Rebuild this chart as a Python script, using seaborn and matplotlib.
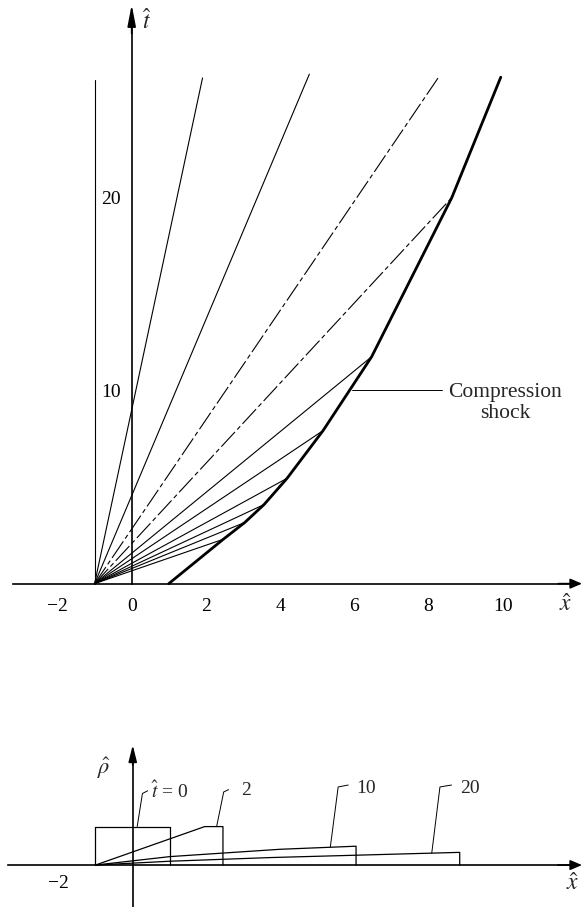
import matplotlib
matplotlib.use("Agg")
import matplotlib.pyplot as plt
import seaborn as sns

# characteristics leaving the corner of the pulse at x = -1
fan_x_end = [-1.0, 1.91, 4.79, 8.26, 8.63, 6.47, 5.16, 4.19, 3.57, 3.05, 2.47]
fan_t_end = [26.1, 26.2, 26.4, 26.2, 20.0, 11.76, 7.93, 5.46, 4.10, 3.17, 2.30]
fan_dashed = [False, False, False, True, True, False, False, False, False, False, False]

# compression shock starting at x = 1
shock_x = [1.0, 2.47, 3.05, 3.57, 4.19, 5.16, 6.47, 8.63, 9.95]
shock_t = [0.0, 2.30, 3.17, 4.10, 5.46, 7.93, 11.76, 20.0, 26.24]

# density profiles
prof_t0_x = [-1.0, -1.0, 1.0, 1.0]
prof_t0_rho = [0.0, 1.0, 1.0, 0.0]
prof_t2_x = [-1.0, 1.93, 2.42, 2.42]
prof_t2_rho = [0.0, 1.0, 1.0, 0.0]
prof_t10_x = [-1.0, 1.0, 3.95, 5.99, 5.99]
prof_t10_rho = [0.0, 0.22, 0.41, 0.49, 0.0]
prof_t20_x = [-1.0, 1.0, 3.7, 8.77, 8.77]
prof_t20_rho = [0.0, 0.10, 0.195, 0.33, 0.0]

# profile labels and their leader lines
prof_labels = ["$\\hat{t}$ = 0", "2", "10", "20"]
label_x = [0.50, 3.05, 6.27, 9.05]
label_rho = [1.93, 1.95, 2.0, 2.0]
leader_x = [[0.12, 0.26, 0.40], [2.25, 2.44, 2.57], [5.30, 5.51, 5.78], [8.02, 8.24, 8.55]]
leader_rho = [[1.0, 1.86, 1.93], [1.0, 1.90, 1.96], [0.47, 2.03, 2.08], [0.31, 2.03, 2.08]]

top_xticks = [-2, 0, 2, 4, 6, 8, 10]
top_xticklabels = ["\u22122", "0", "2", "4", "6", "8", "10"]
minor_xticks = [-1, 1, 3, 5, 7, 9]
top_tticks = [10, 20]

sns.set_style("white")
plt.rcParams["font.family"] = ["Liberation Serif", "DejaVu Serif"]
plt.rcParams["mathtext.fontset"] = "stix"

W, H = 582, 907
fig = plt.figure(figsize=(W / 100, H / 100), dpi=100)

# ---------------- top panel: x-t diagram ----------------
ax1 = fig.add_axes([0, 1 - 640 / H, 1, 640 / H])
ax1.set_xlim(-3.55, 12.14)
ax1.set_ylim(-2.92, 30.24)

dashdot = (0, (18, 3, 4, 3))
for xe, te, d in zip(fan_x_end, fan_t_end, fan_dashed):
    sns.lineplot(x=[-1.0, xe], y=[0.0, te], ax=ax1, color="black", linewidth=0.8,
                 linestyle=dashdot if d else "-", estimator=None, sort=False)

sns.lineplot(x=shock_x, y=shock_t, ax=ax1, color="black", linewidth=2.0,
             estimator=None, sort=False)

for s in ["top", "right"]:
    ax1.spines[s].set_visible(False)
ax1.spines["bottom"].set_position(("data", 0))
ax1.spines["left"].set_position(("data", 0))
ax1.spines["bottom"].set_bounds(-3.2, 11.8)
ax1.spines["left"].set_bounds(0, 29.0)
for s in ["bottom", "left"]:
    ax1.spines[s].set_linewidth(1.2)
    ax1.spines[s].set_color("black")

ax1.set_xticks(top_xticks)
ax1.set_xticklabels(top_xticklabels)
ax1.set_xticks(minor_xticks, minor=True)
ax1.set_yticks(top_tticks)
ax1.set_yticklabels([str(v) for v in top_tticks])
ax1.tick_params(axis="x", which="both", direction="inout", length=7, width=1,
                colors="black", labelsize=14, pad=7)
ax1.tick_params(axis="y", which="both", direction="inout", length=7, width=1,
                colors="black", labelsize=14, pad=4.5)

ax1.annotate("", xy=(12.14, 0), xytext=(11.5, 0),
             arrowprops=dict(arrowstyle="-|>,head_length=0.7,head_width=0.3",
                             color="black", lw=1.2, shrinkA=0, shrinkB=0))
ax1.annotate("", xy=(0, 30.0), xytext=(0, 28.5),
             arrowprops=dict(arrowstyle="-|>,head_length=1.3,head_width=0.25",
                             color="black", lw=1.2, shrinkA=0, shrinkB=0))

ax1.text(0.28, 29.1, "$\\hat{t}$", fontsize=17, ha="left", va="center")
ax1.text(11.7, -1.1, "$\\hat{x}$", fontsize=17, ha="center", va="center")

# leader for the shock
sns.lineplot(x=[5.93, 8.36], y=[10.04, 10.04], ax=ax1, color="black",
             linewidth=0.7, estimator=None, sort=False)
ax1.text(10.06, 9.35, "Compression\nshock", fontsize=15.5, ha="center",
         va="center", linespacing=1.1)

# ---------------- bottom panel: density profiles ----------------
ax2 = fig.add_axes([0, 0, 1, 207 / H])
ax2.set_xlim(-3.56, 12.05)
ax2.set_ylim(-1.09, 4.29)

profiles = [(prof_t0_x, prof_t0_rho), (prof_t2_x, prof_t2_rho),
            (prof_t10_x, prof_t10_rho), (prof_t20_x, prof_t20_rho)]
for px, pr in profiles:
    sns.lineplot(x=px, y=pr, ax=ax2, color="black", linewidth=0.9,
                 estimator=None, sort=False)

for lx, lr, lab, tx, tr in zip(leader_x, leader_rho, prof_labels, label_x, label_rho):
    sns.lineplot(x=lx, y=lr, ax=ax2, color="black", linewidth=0.7,
                 estimator=None, sort=False)
    ax2.text(tx, tr, lab, fontsize=14, ha="left" if lab.startswith("$") else "center",
             va="center")

for s in ["top", "right"]:
    ax2.spines[s].set_visible(False)
ax2.spines["bottom"].set_position(("data", 0))
ax2.spines["left"].set_position(("data", 0))
ax2.spines["bottom"].set_bounds(-3.34, 11.7)
ax2.spines["left"].set_bounds(-1.09, 2.8)
for s in ["bottom", "left"]:
    ax2.spines[s].set_linewidth(1.2)
    ax2.spines[s].set_color("black")

ax2.set_xticks([-2])
ax2.set_xticklabels(["\u22122"])
ax2.set_xticks([-1, 0, 1, 2, 3, 4, 5, 6, 7, 8, 9, 10], minor=True)
ax2.set_yticks([])
ax2.tick_params(axis="x", which="both", direction="inout", length=6, width=1,
                colors="black", labelsize=14, pad=4)

ax2.annotate("", xy=(12.05, 0), xytext=(11.4, 0),
             arrowprops=dict(arrowstyle="-|>,head_length=0.7,head_width=0.3",
                             color="black", lw=1.2, shrinkA=0, shrinkB=0))
ax2.annotate("", xy=(0, 3.12), xytext=(0, 2.6),
             arrowprops=dict(arrowstyle="-|>,head_length=1.0,head_width=0.25",
                             color="black", lw=1.2, shrinkA=0, shrinkB=0))

ax2.text(-0.78, 2.52, "$\\hat{\\rho}$", fontsize=16, ha="center", va="center")
ax2.text(11.8, -0.5, "$\\hat{x}$", fontsize=17, ha="center", va="center")

fig.savefig("out.png", dpi=100)
